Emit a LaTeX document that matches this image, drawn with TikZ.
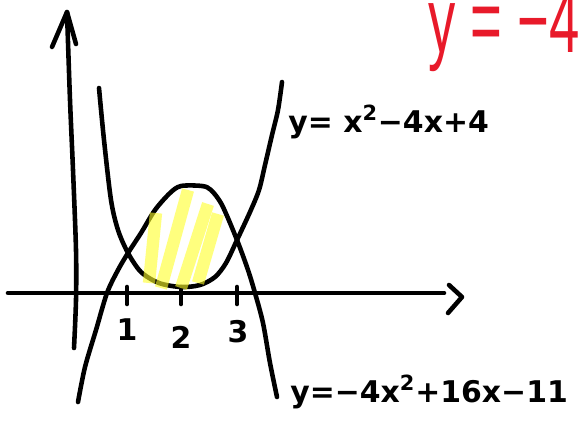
\documentclass[tikz,border=0pt]{standalone}
\usepackage{fontspec}
\usepackage{xcolor}
\usepackage{tikz}
\usetikzlibrary{arrows}
\newfontfamily\penfont{DejaVu Sans}
\newfontfamily\markerfont{Liberation Sans}
\definecolor{markerred}{RGB}{232,26,42}
\definecolor{highlight}{RGB}{255,255,40}

\begin{document}
\begin{tikzpicture}[
        x=0.02cm, y=-0.02cm,
        pen/.style={line width=2.6pt, line cap=round, line join=round},
        hilite/.style={line width=7pt, draw=highlight, opacity=0.6},
        eqn/.style={font=\penfont\bfseries\fontsize{17}{20}\selectfont, inner sep=0pt, anchor=base west},
        ticklabel/.style={font=\penfont\bfseries\fontsize{17}{20}\selectfont, inner sep=0pt},
        redlabel/.style={font=\markerfont\fontsize{31}{36}\selectfont, text=markerred, inner sep=0pt, anchor=base west}
    ]
    \useasboundingbox (0,0) rectangle (580,427);
    \clip (0,0) rectangle (580,427);

    % axes
    \draw[pen] plot[smooth] coordinates {(74,348) (76,300) (76,250) (73,170) (70,100) (67,12)};
    \draw[pen] (52,47) -- (67,12) -- (76,44);
    \draw[pen] (8,293) -- (444,293);
    \draw[pen] (449,285) -- (462,297) -- (448,313);
    \foreach \x/\t in {127/1, 181/2, 237/3}
        \draw[pen] (\x,287) -- (\x,304);

    % curves
    \draw[pen] plot[smooth] coordinates {(99,88) (104,140) (111,200) (118,230) (128,253)
        (141,272) (159,283) (181,287) (200,285) (215,277) (226,263) (237,240)
        (250,212) (259,190) (265,165) (272,135) (278,110) (282,82)};
    \draw[pen] plot[smooth] coordinates {(78,402) (85,367) (96,330) (107,293) (118,270)
        (128,253) (141,233) (155,210) (170,193) (181,186) (202,186) (211,190)
        (222,205) (237,240) (248,270) (255,293) (263,323) (270,363) (277,397)};

    % shading
    \draw[hilite] (149,283) -- (156,213);
    \draw[hilite] (161,288) -- (188,190);
    \draw[hilite] (181,288) -- (208,204);
    \draw[hilite] (198,283) -- (218,214);

    % labels
    \node[ticklabel] (one) at (127,330) {1};
    \node[ticklabel] (two) at (181,337) {2};
    \node[ticklabel] (three) at (238,332) {3};
    \node[eqn] (upper) at (288,132) {y= x\textsuperscript{2}−4x+4};
    \node[eqn] (lower) at (290,402) {y=−4x\textsuperscript{2}+16x−11};
    \node[redlabel] (line) at (428,52) {\scalebox{1}[1.7]{y = −4}};
\end{tikzpicture}
\end{document}
